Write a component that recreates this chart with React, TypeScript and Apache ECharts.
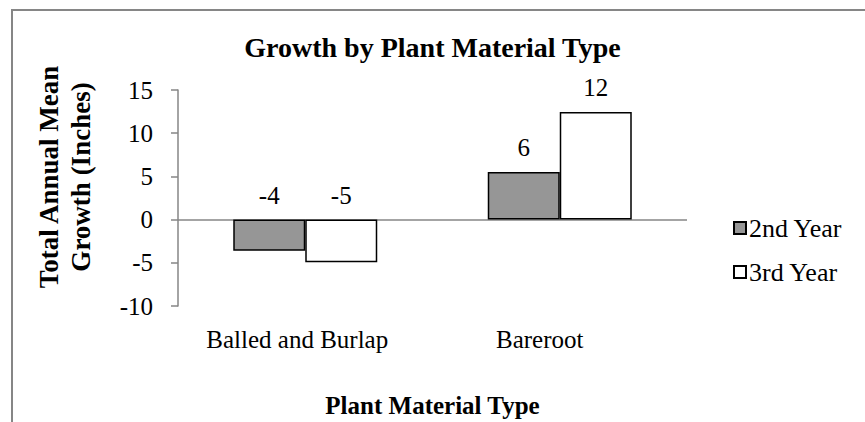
import React, { useEffect, useRef } from "react";
import * as echarts from "echarts";

const categories = ["Balled and Burlap", "Bareroot"];
const seriesNames = ["2nd Year", "3rd Year"];
const year2 = [-3.6, 5.5];
const year3 = [-4.95, 12.45];
const yTicks = { min: -10, max: 15, interval: 5 };
const titleText = "Growth by Plant Material Type";
const xName = "Plant Material Type";
const yName = "Total Annual Mean\nGrowth (Inches)";

const FONT = "'Liberation Serif', 'Times New Roman', serif";
const GRAY = "#868686";
const FS = 25;

export default function App() {
  const ref = useRef<HTMLDivElement>(null);
  useEffect(() => {
    if (!ref.current) return;
    const chart = echarts.init(ref.current, undefined, { renderer: "svg" });
    const label = {
      show: true,
      position: "top",
      distance: 12,
      fontFamily: FONT,
      fontSize: FS,
      color: "#000",
      formatter: (p: any) => String(Math.round(p.value)),
    };
    chart.setOption({
      animation: false,
      backgroundColor: "#fff",
      textStyle: { fontFamily: FONT },
      title: {
        text: titleText,
        left: "center",
        top: 28,
        textStyle: { fontFamily: FONT, fontSize: 28, fontWeight: "bold", color: "#000" },
      },
      grid: {
        left: 178,
        top: 90,
        width: 509,
        height: 216,
        containLabel: false,
        outerBoundsMode: "none",
      },
      legend: {
        orient: "vertical",
        left: 728,
        top: 210,
        itemWidth: 12,
        itemHeight: 12,
        itemGap: 18,
        icon: "rect",
        data: seriesNames,
        textStyle: { fontFamily: FONT, fontSize: 26, color: "#000", padding: [0, 0, 0, -2] },
      },
      xAxis: {
        type: "category",
        data: categories,
        position: "bottom",
        axisLine: { show: false, onZero: false },
        axisTick: { show: false },
        axisLabel: {
          interval: 0,
          hideOverlap: false,
          margin: 21,
          fontFamily: FONT,
          fontSize: FS,
          color: "#000",
          formatter: (v: string, i: number) => (i === 0 ? `{a|${v}}` : `{b|${v}}`),
          rich: {
            a: { fontFamily: FONT, fontSize: FS, color: "#000", padding: [0, 16, 0, 0] },
            b: { fontFamily: FONT, fontSize: FS, color: "#000", padding: [0, 40, 0, 0] },
          },
        },
        name: xName,
        nameLocation: "middle",
        nameGap: 87,
        nameTextStyle: { fontFamily: FONT, fontSize: FS, fontWeight: "bold", color: "#000" },
      },
      yAxis: {
        type: "value",
        min: yTicks.min,
        max: yTicks.max,
        interval: yTicks.interval,
        splitLine: { show: false },
        axisLine: { show: true, onZero: false, lineStyle: { color: GRAY, width: 1.5 } },
        axisTick: { show: true, inside: false, length: 7, lineStyle: { color: GRAY, width: 1.5 } },
        axisLabel: { margin: 25, fontFamily: FONT, fontSize: FS, color: "#000" },
      },
      graphic: [
        {
          type: "rect",
          shape: { x: 12, y: 10, width: 1000, height: 1000 },
          style: { fill: "none", stroke: GRAY, lineWidth: 2 },
          silent: true,
          z: 0,
        },
        {
          type: "text",
          x: 65,
          y: 177,
          rotation: Math.PI / 2,
          style: {
            text: yName,
            font: `bold 27px ${FONT}`,
            fill: "#000",
            align: "center",
            verticalAlign: "middle",
            lineHeight: 32,
          },
        },
      ],
      series: [
        {
          name: seriesNames[0],
          type: "bar",
          data: year2,
          barWidth: 72,
          barGap: "0%",
          itemStyle: { color: "#969696", borderColor: "#000", borderWidth: 1.5 },
          label,
          markLine: {
            silent: true,
            symbol: "none",
            label: { show: false },
            lineStyle: { color: GRAY, width: 1.5, type: "solid" },
            data: [{ yAxis: 0 }],
            z: 1,
          },
        },
        {
          name: seriesNames[1],
          type: "bar",
          data: year3,
          barWidth: 72,
          barGap: "0%",
          itemStyle: { color: "#ffffff", borderColor: "#000", borderWidth: 1.5 },
          label,
        },
      ],
    });
    return () => chart.dispose();
  }, []);
  return (
    <div
      ref={ref}
      style={{ position: "fixed", left: 0, top: 0, width: 865, height: 422 }}
    />
  );
}
